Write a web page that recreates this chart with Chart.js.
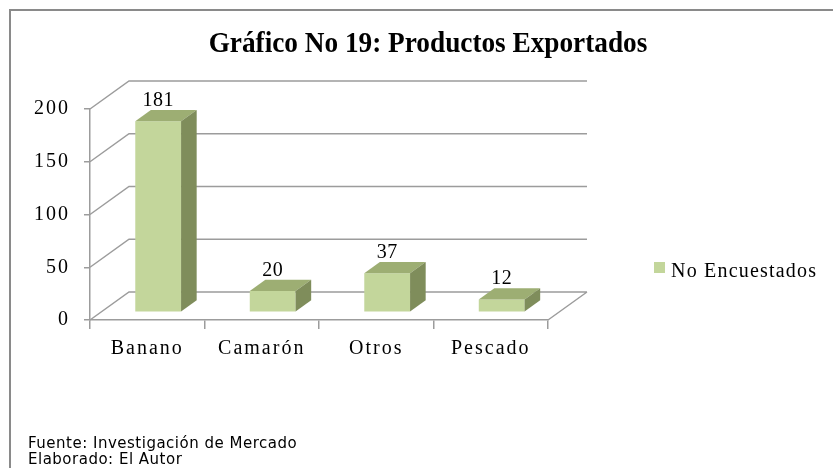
<!DOCTYPE html>
<html>
<head>
<meta charset="utf-8">
<script src="https://cdn.jsdelivr.net/npm/chart.js@4.4.0/dist/chart.umd.min.js"></script>
<style>
  html, body { margin: 0; padding: 0; background: #fff; }
</style>
</head>
<body>
<canvas id="chart" width="833" height="468"></canvas>
<script>
const titleText = 'Gráfico No 19: Productos Exportados';
const categories = ['Banano', 'Camarón', 'Otros', 'Pescado'];
const seriesLabel = 'No Encuestados';
const seriesValues = [181, 20, 37, 12];
const yTicks = [0, 50, 100, 150, 200];
const footerLines = ['Fuente: Investigación de Mercado', 'Elaborado: El Autor'];

// look of the fake 3d box
const DEPTH = { dx: 39, dy: -28 };
const BAR_FRONT = 0.28, BAR_BACK = 0.68;
const GRID = '#9c9c9c';
const FRONT = '#c3d69b', TOP = '#9dae73', SIDE = '#7f8d5b';
const SERIF = "'Liberation Serif', 'Times New Roman', serif";

const frame3d = {
  id: 'frame3d',
  beforeDraw(chart) {
    const ctx = chart.ctx;
    ctx.save();
    ctx.fillStyle = '#fff';
    ctx.fillRect(0, 0, chart.width, chart.height);
    ctx.strokeStyle = '#8a8a8a';
    ctx.lineWidth = 2;
    ctx.strokeRect(10, 10, chart.width + 20, chart.height + 20);
    ctx.restore();
    ctx.letterSpacing = '2px'; // Excel spreads the axis text out
  },
  beforeDatasetsDraw(chart) {
    const ctx = chart.ctx;
    const { left, right } = chart.chartArea;
    const y = chart.scales.y;
    ctx.save();
    ctx.strokeStyle = GRID;
    ctx.lineWidth = 1.5;
    ctx.beginPath();
    yTicks.forEach(v => {
      const py = y.getPixelForValue(v);
      ctx.moveTo(left, py);
      ctx.lineTo(left + DEPTH.dx, py + DEPTH.dy);
      ctx.lineTo(right + DEPTH.dx, py + DEPTH.dy);
    });
    const p0 = y.getPixelForValue(0);
    ctx.moveTo(right, p0);
    ctx.lineTo(right + DEPTH.dx, p0 + DEPTH.dy);
    ctx.stroke();
    ctx.restore();
    // library draws the bar fronts, pushed into the box
    ctx.save();
    ctx.translate(DEPTH.dx * BAR_FRONT, DEPTH.dy * BAR_FRONT);
  },
  afterDatasetsDraw(chart) {
    const ctx = chart.ctx;
    ctx.restore();
    const fx = DEPTH.dx * BAR_FRONT, fy = DEPTH.dy * BAR_FRONT;
    const ddx = DEPTH.dx * (BAR_BACK - BAR_FRONT), ddy = DEPTH.dy * (BAR_BACK - BAR_FRONT);
    ctx.save();
    chart.getDatasetMeta(0).data.forEach((bar, i) => {
      const l = bar.x - bar.width / 2 + fx, r = bar.x + bar.width / 2 + fx;
      const t = bar.y + fy, b = bar.base + fy;
      ctx.fillStyle = TOP;
      ctx.beginPath();
      ctx.moveTo(l, t); ctx.lineTo(r, t); ctx.lineTo(r + ddx, t + ddy); ctx.lineTo(l + ddx, t + ddy);
      ctx.closePath(); ctx.fill();
      ctx.fillStyle = SIDE;
      ctx.beginPath();
      ctx.moveTo(r, t); ctx.lineTo(r + ddx, t + ddy); ctx.lineTo(r + ddx, b + ddy); ctx.lineTo(r, b);
      ctx.closePath(); ctx.fill();
      ctx.fillStyle = '#000';
      ctx.font = '20px ' + SERIF;
      ctx.letterSpacing = '0.5px';
      ctx.textAlign = 'center';
      ctx.textBaseline = 'alphabetic';
      ctx.fillText(String(seriesValues[i]), bar.x + fx, t + ddy - 4);
    });
    ctx.restore();
  },
  afterDraw(chart) {
    const ctx = chart.ctx;
    ctx.save();
    ctx.fillStyle = '#000';
    ctx.textBaseline = 'alphabetic';
    // title, a bit condensed like the original
    ctx.save();
    ctx.letterSpacing = '0px';
    ctx.font = 'bold 29px ' + SERIF;
    ctx.textAlign = 'center';
    ctx.translate(428, 52);
    ctx.scale(0.94, 1);
    ctx.fillText(titleText, 0, 0);
    ctx.restore();
    // legend
    const ds = chart.data.datasets[0];
    ctx.fillStyle = ds.backgroundColor;
    ctx.fillRect(654, 262, 11, 11);
    ctx.fillStyle = '#000';
    ctx.textAlign = 'left';
    ctx.letterSpacing = '1.2px';
    ctx.font = '20px ' + SERIF;
    ctx.fillText(ds.label, 671, 277);
    // source note
    ctx.letterSpacing = '0.5px';
    ctx.font = "15px 'DejaVu Sans', Verdana, sans-serif";
    footerLines.forEach((line, i) => ctx.fillText(line, 28, 448 + i * 16));
    ctx.restore();
  }
};

new Chart(document.getElementById('chart'), {
  type: 'bar',
  data: {
    labels: categories,
    datasets: [{
      label: seriesLabel,
      data: seriesValues,
      backgroundColor: FRONT,
      borderWidth: 0,
      barPercentage: 0.4,
      categoryPercentage: 1
    }]
  },
  options: {
    responsive: false,
    animation: false,
    layout: { padding: { top: 109, left: 10, right: 285, bottom: 88 } },
    plugins: {
      legend: { display: false },
      title: { display: false },
      tooltip: { enabled: false }
    },
    scales: {
      x: {
        afterFit: s => { s.height = 60; },
        grid: { drawOnChartArea: false, drawTicks: true, tickLength: 9, color: GRID, lineWidth: 1.5, offset: true },
        border: { display: true, color: GRID, width: 1.5 },
        ticks: { color: '#000', font: { family: SERIF, size: 20 }, padding: 8, maxRotation: 0 }
      },
      y: {
        min: 0,
        max: 200,
        afterFit: s => { s.width = 80; },
        afterBuildTicks: s => { s.ticks = yTicks.map(v => ({ value: v })); },
        grid: { drawOnChartArea: false, drawTicks: true, tickLength: 6, color: GRID, lineWidth: 1.5 },
        border: { display: true, color: GRID, width: 1.5 },
        ticks: { color: '#000', font: { family: SERIF, size: 20 }, padding: 14 }
      }
    }
  },
  plugins: [frame3d]
});
</script>
</body>
</html>
